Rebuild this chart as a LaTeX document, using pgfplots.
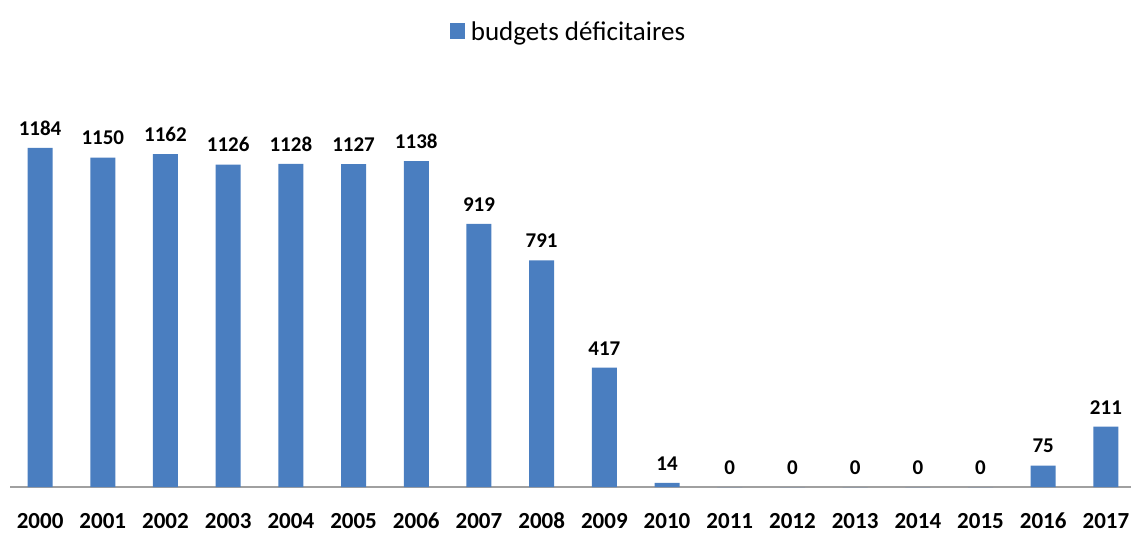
\documentclass[border=0pt]{standalone}
\usepackage{fontspec}
\setmainfont{Carlito}
\usepackage{pgfplots}
\pgfplotsset{compat=1.18}
\definecolor{barblue}{RGB}{74,126,192}
\definecolor{axgray}{RGB}{160,160,160}
\begin{document}
\begin{tikzpicture}
\begin{axis}[
  name=ax,
  scale only axis,
  width=1121pt, height=427pt,
  xmin=-0.48, xmax=17.4,
  ymin=0, ymax=1491,
  axis y line=none,
  axis x line*=bottom,
  x axis line style={draw=axgray, line width=1.6pt, -},
  xtick={0,...,17},
  xticklabels={2000,2001,2002,2003,2004,2005,2006,2007,2008,2009,2010,2011,2012,2013,2014,2015,2016,2017},
  major tick length=0pt,
  typeset ticklabels with strut,
  xticklabel style={font=\fontsize{23}{26}\selectfont\bfseries, yshift=-20pt},
  ybar, bar width=25pt,
  nodes near coords,
  /pgf/number format/assume math mode=true,
  /pgf/number format/1000 sep={},
  nodes near coords style={font=\fontsize{21}{24}\selectfont\bfseries, yshift=9pt},
  legend style={at={(0.5,1.0)}, anchor=south, yshift=14pt, draw=none, fill=none,
     font=\fontsize{27}{31}\selectfont, legend columns=1,
     nodes={inner xsep=6pt}},
  legend image code/.code={\fill[barblue] (0pt,-7pt) rectangle (15pt,9pt);},
]
\addplot[fill=barblue, draw=none] coordinates {
(0,1184) (1,1150) (2,1162) (3,1126) (4,1128) (5,1127) (6,1138) (7,919) (8,791) (9,417)
(10,14) (11,0) (12,0) (13,0) (14,0) (15,0) (16,75) (17,211)};
\addlegendentry{budgets déficitaires}
\end{axis}
\pgfresetboundingbox
\path (ax.south west) +(-10pt,-52pt) (ax.north east) +(0pt,60pt);
\end{tikzpicture}
\end{document}
